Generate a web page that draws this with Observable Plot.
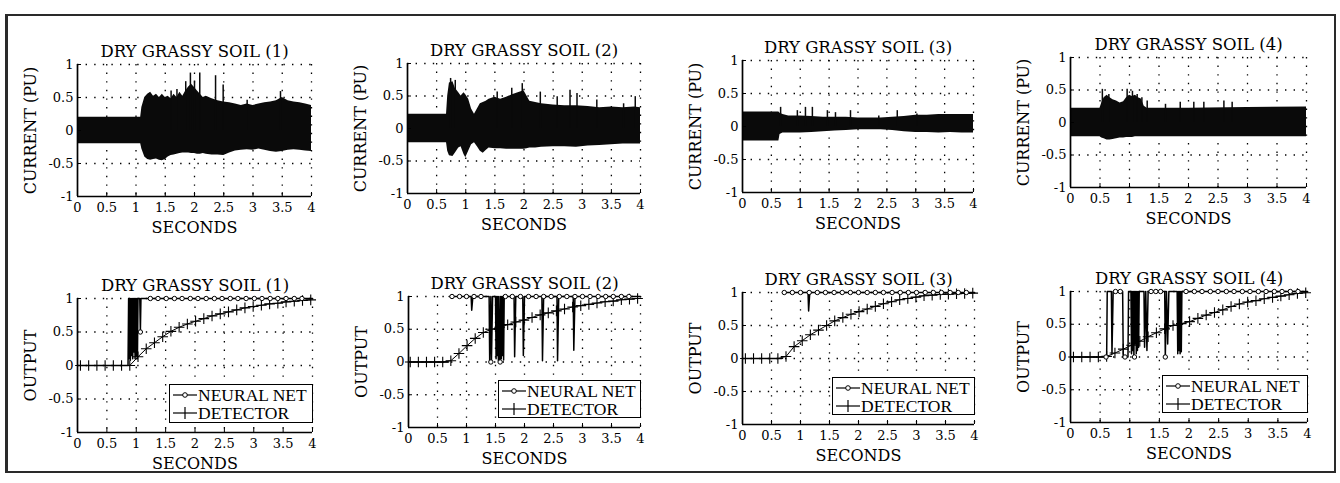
<!DOCTYPE html>
<html><head><meta charset="utf-8">
<script src="https://cdn.jsdelivr.net/npm/d3@7"></script>
<script src="https://cdn.jsdelivr.net/npm/@observablehq/plot@0.6"></script>
<style>
html,body{margin:0;padding:0;background:#fff;}
#root{position:relative;width:1340px;height:483px;overflow:hidden;background:#fff;}
#border{position:absolute;left:5px;top:14px;width:1326px;height:455px;border:2px solid #2a2a2a;border-left-width:3px;}
.legend{position:absolute;background:#fff;border:1.5px solid #000;font-family:"Liberation Serif";font-size:17.5px;line-height:18px;color:#000;box-sizing:border-box;padding:1px 0 0 3px;white-space:nowrap;overflow:hidden;}
.legend .row{display:flex;align-items:center;height:18px;}
.legend svg{margin-right:1px;flex:none;}
</style></head><body><div id="root"><div id="border"></div></div>
<script>
// ---------- text / ticks ----------
const xTicks = [0, 0.5, 1, 1.5, 2, 2.5, 3, 3.5, 4];
const xTickLabels = ["0", "0.5", "1", "1.5", "2", "2.5", "3", "3.5", "4"];
const yTicks = [-1, -0.5, 0, 0.5, 1];
const yTickLabels = ["-1", "-0.5", "0", "0.5", "1"];
const titles = ["DRY GRASSY SOIL (1)", "DRY GRASSY SOIL (2)", "DRY GRASSY SOIL (3)", "DRY GRASSY SOIL (4)"];
const topYLabel = "CURRENT (PU)";
const bottomYLabel = "OUTPUT";
const xLabel = "SECONDS";
const legendLabels = ["NEURAL NET", "DETECTOR"];

// ---------- current envelopes: [seconds, upper, lower] ----------
const cur1 = [[0,.2,-.2],[1.08,.2,-.2],[1.1,.35,-.28],[1.15,.5,-.4],[1.2,.55,-.44],[1.25,.58,-.45],[1.3,.52,-.44],[1.35,.55,-.43],[1.4,.5,-.45],[1.45,.55,-.46],[1.5,.5,-.44],[1.55,.52,-.4],[1.6,.48,-.38],[1.65,.55,-.37],[1.7,.5,-.36],[1.75,.58,-.35],[1.8,.52,-.34],[1.85,.6,-.34],[1.9,.66,-.34],[1.95,.7,-.35],[2.0,.65,-.35],[2.05,.6,-.36],[2.1,.55,-.36],[2.15,.5,-.35],[2.2,.52,-.36],[2.3,.48,-.37],[2.4,.45,-.37],[2.5,.43,-.38],[2.6,.42,-.34],[2.7,.4,-.31],[2.8,.38,-.3],[2.9,.4,-.29],[3.0,.38,-.3],[3.1,.4,-.28],[3.2,.42,-.3],[3.3,.43,-.32],[3.4,.45,-.33],[3.5,.5,-.32],[3.6,.45,-.3],[3.7,.43,-.29],[3.8,.42,-.3],[3.9,.4,-.31],[4.0,.38,-.32]];
const cur2 = [[0,.22,-.22],[0.67,.22,-.22],[0.69,.5,-.35],[0.72,.7,-.42],[0.78,.72,-.43],[0.82,.62,-.38],[0.88,.55,-.3],[0.92,.5,-.28],[0.97,.55,-.4],[1.0,.52,-.45],[1.05,.45,-.35],[1.1,.3,-.25],[1.15,.22,-.22],[1.2,.3,-.28],[1.25,.38,-.35],[1.3,.4,-.38],[1.35,.42,-.34],[1.4,.45,-.3],[1.5,.48,-.31],[1.6,.45,-.31],[1.7,.48,-.32],[1.8,.52,-.32],[1.9,.55,-.32],[2.0,.58,-.32],[2.05,.5,-.31],[2.1,.42,-.3],[2.2,.4,-.3],[2.3,.38,-.29],[2.5,.36,-.28],[2.7,.35,-.28],[2.9,.35,-.29],[3.1,.34,-.27],[3.3,.32,-.26],[3.5,.33,-.25],[3.7,.32,-.24],[3.9,.33,-.24],[4.0,.32,-.24]];
const cur3 = [[0,.22,-.22],[0.63,.22,-.22],[0.65,.2,-.12],[0.7,.18,-.1],[0.8,.16,-.1],[1.0,.16,-.1],[1.2,.15,-.09],[1.4,.14,-.08],[1.6,.14,-.07],[1.8,.14,-.06],[2.0,.13,-.05],[2.2,.13,-.05],[2.4,.13,-.05],[2.6,.14,-.06],[2.8,.15,-.08],[3.0,.17,-.09],[3.2,.17,-.09],[3.4,.18,-.1],[3.6,.18,-.09],[3.8,.18,-.1],[4.0,.18,-.1]];
const cur4 = [[0,.22,-.22],[0.5,.22,-.22],[0.53,.3,-.24],[0.57,.38,-.25],[0.62,.42,-.27],[0.67,.38,-.27],[0.72,.35,-.26],[0.78,.33,-.25],[0.84,.3,-.24],[0.9,.32,-.24],[0.95,.38,-.23],[1.0,.42,-.23],[1.05,.4,-.23],[1.1,.42,-.22],[1.15,.38,-.22],[1.2,.36,-.22],[1.25,.25,-.22],[1.3,.22,-.22],[2,.22,-.22],[3,.23,-.22],[4,.24,-.22]];

// ---------- current spikes: [seconds, peak] ----------
const spk1 = [[1.6,.6],[1.7,.62],[1.85,.74],[1.93,.87],[2.0,.75],[2.09,.87],[2.36,.83],[2.49,.69],[2.9,.46],[3.47,.59]];
const spk2 = [[0.74,.77],[0.82,.74],[1.54,.56],[1.79,.62],[1.97,.69],[2.28,.56],[2.57,.49],[2.79,.59],[2.91,.54],[3.25,.44],[3.71,.38],[3.91,.49]];
const spk3 = [[0.66,.29],[0.95,.24],[1.09,.29],[1.21,.29],[1.47,.24],[1.61,.21],[1.87,.24],[2.36,.16],[2.68,.24],[3.02,.19]];
const spk4 = [[0.54,.51],[0.65,.43],[0.96,.51],[1.05,.48],[1.13,.43],[1.21,.38],[1.3,.33],[1.61,.28],[1.86,.31],[2.09,.31],[2.26,.31],[2.6,.33],[2.74,.31]];

// ---------- neural net output: [seconds, output] (null = pen lifted) ----------
const nn1 = [[0,0],[0.86,0],[0.87,1],[0.88,.1],[0.89,1],[0.9,.08],[0.91,1],[0.92,.15],[0.93,1],[0.94,.1],[0.95,1],[0.96,.2],[0.97,1],[0.98,.1],[0.99,1],[1.0,.14],[1.01,1],[1.02,.1],[1.03,1],[1.06,1],[1.07,.5],[1.08,1],[4,1]];
const nn2 = [[0,0],[0.69,0],[0.695,null],[0.7,1],[1.08,1],[1.09,.79],[1.11,1],[1.39,1],[1.4,0],[1.42,1],[1.43,0],[1.45,1],[1.5,1],[1.51,.05],[1.52,1],[1.53,.1],[1.54,1],[1.55,.02],[1.56,1],[1.57,0],[1.58,0],[1.59,1],[1.6,.05],[1.61,1],[1.62,.1],[1.63,1],[1.64,.03],[1.65,1],[1.82,1],[1.83,.08],[1.85,1],[1.97,1],[1.98,.1],[2.0,1],[2.3,1],[2.31,.02],[2.33,1],[2.56,1],[2.57,.02],[2.59,1],[2.84,1],[2.85,.18],[2.87,1],[4,1]];
const nn3 = [[0,0],[0.68,0],[0.685,null],[0.69,1],[1.13,1],[1.14,.72],[1.16,1],[4,1]];
const nn4 = [[0,0],[0.61,0],[0.62,1],[0.69,1],[0.7,.05],[0.72,1],[0.88,1],[0.89,0],[0.97,0],[0.98,1],[1.02,1],[1.03,.05],[1.04,1],[1.05,.1],[1.06,1],[1.07,0],[1.08,1],[1.09,.2],[1.1,1],[1.11,.05],[1.12,1],[1.13,.1],[1.14,1],[1.15,.15],[1.16,1],[1.24,1],[1.25,.15],[1.27,1],[1.29,.1],[1.31,1],[1.59,1],[1.6,0],[1.62,1],[1.64,.2],[1.66,1],[1.8,1],[1.81,.05],[1.82,1],[1.83,.1],[1.84,1],[1.85,.05],[1.86,1],[1.87,.08],[1.88,1],[4,1]];

// neural net circle markers: [seconds, output]
const nnMarks1 = [[1.07,.5],[1.24,1],[1.37,1],[1.51,1],[1.65,1],[1.78,1],[1.92,1],[2.05,1],[2.19,1],[2.33,1],[2.46,1],[2.6,1],[2.73,1],[2.87,1],[3.01,1],[3.14,1],[3.28,1],[3.41,1],[3.55,1],[3.69,1],[3.82,1]];
const nnMarks2 = [[0.75,1],[0.88,1],[1.0,1],[1.13,1],[1.25,1],[1.42,0],[1.58,0],[1.67,1],[1.79,1],[1.93,1],[2.07,1],[2.2,1],[2.33,1],[2.46,1],[2.6,1],[2.73,1],[2.87,1],[3.0,1],[3.13,1],[3.27,1],[3.4,1],[3.53,1],[3.67,1],[3.8,1]];
const nnMarks3 = [[0.72,1],[0.86,1],[1.0,1],[1.15,1],[1.29,1],[1.43,1],[1.58,1],[1.72,1],[1.86,1],[2.0,1],[2.15,1],[2.29,1],[2.43,1],[2.58,1],[2.72,1],[2.86,1],[3.0,1],[3.15,1],[3.29,1],[3.43,1],[3.58,1],[3.72,1],[3.86,1]];
const nnMarks4 = [[0.6,0],[0.76,1],[0.84,1],[0.92,0],[1.08,0],[1.36,1],[1.44,1],[1.52,1],[1.6,0],[1.95,1],[2.09,1],[2.22,1],[2.36,1],[2.49,1],[2.63,1],[2.76,1],[2.9,1],[3.03,1],[3.17,1],[3.3,1],[3.44,1],[3.57,1],[3.71,1],[3.84,1]];

// ---------- detector output: [seconds, output] ----------
const det1 = [[0,0],[0.05,0],[0.19,0],[0.33,0],[0.47,0],[0.61,0],[0.75,0],[0.89,0],[1.03,.13],[1.17,.25],[1.31,.34],[1.45,.43],[1.59,.51],[1.73,.57],[1.87,.62],[2.01,.66],[2.15,.7],[2.29,.74],[2.43,.77],[2.57,.8],[2.71,.83],[2.85,.86],[2.99,.88],[3.13,.9],[3.27,.92],[3.41,.93],[3.55,.95],[3.69,.96],[3.83,.97],[3.97,.98]];
const det2 = [[0,0],[0.03,0],[0.17,0],[0.31,0],[0.45,0],[0.59,0],[0.73,.02],[0.87,.13],[1.01,.25],[1.15,.36],[1.29,.45],[1.43,.5],[1.57,.53],[1.71,.57],[1.85,.61],[1.99,.64],[2.13,.68],[2.27,.72],[2.41,.75],[2.55,.78],[2.69,.81],[2.83,.84],[2.97,.86],[3.11,.88],[3.25,.9],[3.39,.92],[3.53,.93],[3.67,.95],[3.81,.96],[3.95,.97]];
const det3 = [[0,0],[0.05,0],[0.19,0],[0.33,0],[0.47,0],[0.61,0],[0.75,.03],[0.89,.18],[1.03,.27],[1.17,.36],[1.31,.43],[1.45,.5],[1.59,.57],[1.73,.62],[1.87,.67],[2.01,.71],[2.15,.75],[2.29,.79],[2.43,.83],[2.57,.86],[2.71,.89],[2.85,.91],[2.99,.93],[3.13,.95],[3.27,.96],[3.41,.97],[3.55,.975],[3.69,.98],[3.83,.985],[3.97,.99]];
const det4 = [[0,0],[0.05,0],[0.19,0],[0.33,0],[0.47,0],[0.61,.01],[0.75,.06],[0.89,.12],[1.03,.18],[1.17,.24],[1.31,.31],[1.45,.37],[1.59,.43],[1.73,.48],[1.87,.51],[2.01,.54],[2.15,.59],[2.29,.64],[2.43,.68],[2.57,.72],[2.71,.77],[2.85,.81],[2.99,.84],[3.13,.86],[3.27,.89],[3.41,.91],[3.55,.93],[3.69,.95],[3.83,.97],[3.97,.98]];

// ---------- layout (frame edges in page pixels) ----------
const topFrames = [{l:77,t:64,r:311,b:196},{l:407,t:63,r:640,b:193},{l:742,t:60,r:973,b:192},{l:1070,t:57,r:1306,b:187}];
const bottomFrames = [{l:77,t:298,r:312,b:432},{l:408,t:296,r:640,b:427},{l:742,t:292,r:974,b:424},{l:1070,t:291,r:1307,b:422}];

const root = document.getElementById("root");
const X = d => d[0], Y = d => d[1];

function panel(f, title, ylabel, marks) {
  const ML = 58, MR = 14, MT = 30, MB = 44;
  const fw = f.r - f.l, fh = f.b - f.t;
  const dots = {stroke: "#000", strokeWidth: 1.3, strokeDasharray: "1.4,7.2"};
  const svg = Plot.plot({
    width: ML + fw + MR, height: MT + fh + MB,
    marginLeft: ML, marginRight: MR, marginTop: MT, marginBottom: MB,
    x: {domain: [0, 4], label: null},
    y: {domain: [-1, 1], label: null},
    style: {fontFamily: "DejaVu Serif", fontSize: "13px", background: "transparent", color: "#000", overflow: "visible"},
    marks: [
      Plot.ruleX(xTicks.filter(d => d > 0), {x: d => d, ...dots}),
      Plot.ruleY(yTicks.filter(d => d > -1), {y: d => d, ...dots}),
      ...marks,
      Plot.ruleX([0], {x: d => d, stroke: "#000", strokeWidth: 1.7}),
      Plot.ruleY([-1], {y: d => d, stroke: "#000", strokeWidth: 1.7}),
      Plot.tickX(xTicks, {x: d => d, insetTop: fh - 4, stroke: "#000"}),
      Plot.tickY(yTicks, {y: d => d, insetRight: fw - 4, stroke: "#000"}),
      Plot.axisX(xTicks, {tickSize: 0, tickPadding: 6, tickFormat: d => xTickLabels[xTicks.indexOf(d)], fontSize: 13}),
      Plot.axisY(yTicks, {tickSize: 0, tickPadding: 4, tickFormat: d => yTickLabels[yTicks.indexOf(d)], fontSize: 13}),
      Plot.text([title], {text: d => d, frameAnchor: "top", lineAnchor: "middle", textAnchor: "middle", dy: -13, fontSize: 16.5}),
      Plot.text([ylabel], {text: d => d, frameAnchor: "left", lineAnchor: "middle", textAnchor: "middle", dx: -47, rotate: -90, fontSize: 16}),
      Plot.text([xLabel], {text: d => d, frameAnchor: "bottom", lineAnchor: "middle", textAnchor: "middle", dy: 31, fontSize: 16})
    ]
  });
  svg.style.position = "absolute";
  svg.style.left = (f.l - ML) + "px";
  svg.style.top = (f.t - MT) + "px";
  root.appendChild(svg);
}

function currentMarks(cur, spk) {
  return [
    Plot.areaY(cur, {x: X, y1: d => d[2], y2: d => d[1], fill: "#0a0a0a"}),
    Plot.ruleX(spk, {x: X, y1: 0, y2: Y, stroke: "#0a0a0a", strokeWidth: 1.5})
  ];
}
function outputMarks(nn, nnMarks, det) {
  return [
    Plot.line(nn, {x: X, y: Y, stroke: "#000", strokeWidth: 1.5}),
    Plot.line(det, {x: X, y: Y, stroke: "#000", strokeWidth: 1}),
    Plot.dot(det.slice(1), {x: X, y: Y, symbol: "plus", r: 3.5, stroke: "#000", strokeWidth: 1.1}),
    Plot.dot(nnMarks, {x: X, y: Y, r: 2.2, stroke: "#000", fill: "#fff", strokeWidth: 1})
  ];
}
function legend(f) {
  const fw = f.r - f.l, fh = f.b - f.t;
  const left = f.l + Math.round(fw * 0.39), top = f.t + Math.round(fh * 0.645);
  const div = document.createElement("div");
  div.className = "legend";
  div.style.left = left + "px";
  div.style.top = top + "px";
  div.style.width = (f.r - left + 1) + "px";
  div.style.height = Math.round(fh * 0.29) + "px";
  const sym = [
    '<svg width="24" height="14"><line x1="0" y1="7" x2="24" y2="7" stroke="#000" stroke-width="1.2"/><circle cx="12" cy="7" r="2.3" fill="#fff" stroke="#000"/></svg>',
    '<svg width="24" height="14"><line x1="0" y1="7" x2="24" y2="7" stroke="#000" stroke-width="1.2"/><line x1="12" y1="1" x2="12" y2="13" stroke="#000" stroke-width="1.2"/></svg>'
  ];
  div.innerHTML = legendLabels.map((s, i) => `<div class="row">${sym[i]}<span>${s}</span></div>`).join("");
  root.appendChild(div);
}

const curs = [[cur1, spk1], [cur2, spk2], [cur3, spk3], [cur4, spk4]];
const outs = [[nn1, nnMarks1, det1], [nn2, nnMarks2, det2], [nn3, nnMarks3, det3], [nn4, nnMarks4, det4]];
curs.forEach(([c, s], i) => panel(topFrames[i], titles[i], topYLabel, currentMarks(c, s)));
outs.forEach(([n, m, d], i) => { panel(bottomFrames[i], titles[i], bottomYLabel, outputMarks(n, m, d)); legend(bottomFrames[i]); });
</script></body></html>
